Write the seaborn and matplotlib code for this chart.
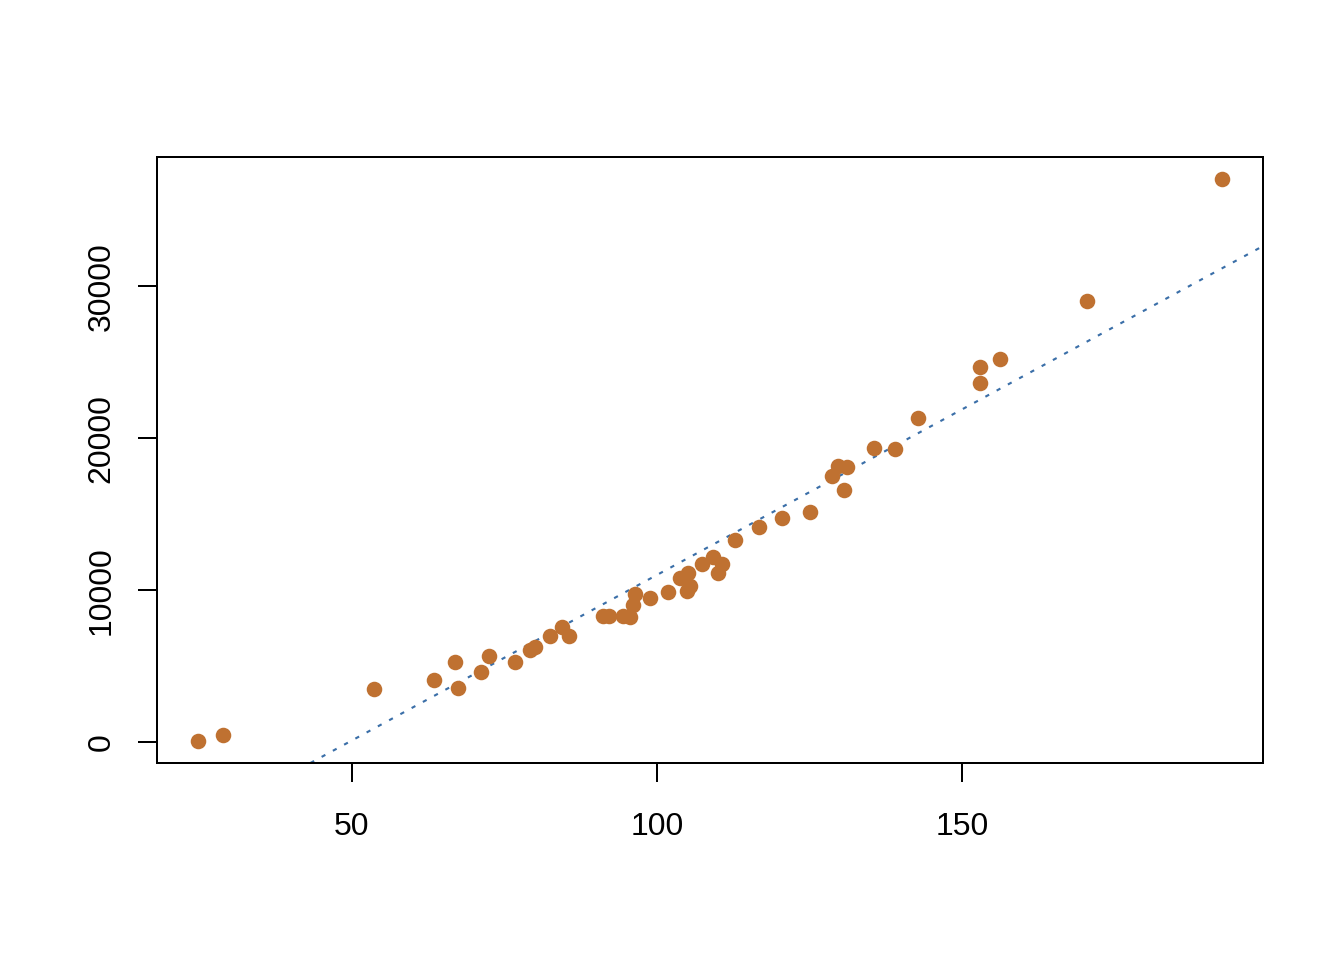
import seaborn as sns
import pandas as pd
import matplotlib.pyplot as plt

# values
x_vals = [24.8, 28.9, 53.6, 63.4, 67.0, 67.4, 71.2, 72.5, 76.7, 79.2,
          80.0, 82.5, 84.4, 85.6, 91.2, 92.1, 94.4, 95.6, 96.1, 96.4,
          98.9, 101.8, 103.8, 105.1, 104.9, 105.4, 107.4, 109.2, 110.7, 110.0,
          112.8, 116.7, 120.5, 125.1, 128.7, 129.7, 131.2, 130.7, 135.6, 139.0,
          142.8, 153.0, 153.0, 156.2, 170.5, 192.6]
y_vals = [100, 460, 3490, 4080, 5260, 3550, 4610, 5660, 5260, 6050,
          6250, 6970, 7570, 6970, 8290, 8290, 8290, 8220, 9010, 9740,
          9470, 9870, 10790, 11120, 9930, 10260, 11710, 12170, 11710, 11120,
          13290, 14140, 14740, 15130, 17500, 18160, 18090, 16580, 19340, 19280,
          21320, 24670, 23620, 25200, 29010, 37040]

# dotted reference line
line_intercept = -10800
line_slope = 218

x_ticks = [50, 100, 150]
y_ticks = [0, 10000, 20000, 30000]


def make_plot():
    df = pd.DataFrame({"x": x_vals, "y": y_vals})

    sns.set_style("white")
    plt.rcParams['font.family'] = ['Liberation Sans', 'DejaVu Sans']
    plt.rcParams['font.size'] = 12
    plt.rcParams['text.color'] = 'black'
    plt.rcParams['xtick.color'] = 'black'
    plt.rcParams['ytick.color'] = 'black'

    fig = plt.figure(figsize=(7, 5), dpi=192)
    ax = fig.add_axes([0.1168, 0.2052, 0.8229, 0.6313])

    sns.scatterplot(data=df, x="x", y="y", ax=ax, color="#BF7131",
                    s=34, linewidth=0, zorder=3)
    ax.axline((0, line_intercept), slope=line_slope, color="#3B6FA8",
              lw=0.8, dashes=(2, 4), zorder=2)

    xr = max(x_vals) - min(x_vals)
    yr = max(y_vals) - min(y_vals)
    ax.set_xlim(min(x_vals) - 0.04 * xr, max(x_vals) + 0.04 * xr)
    ax.set_ylim(min(y_vals) - 0.04 * yr, max(y_vals) + 0.04 * yr)

    ax.set_xticks(x_ticks)
    ax.set_yticks(y_ticks)
    ax.set_xlabel("")
    ax.set_ylabel("")
    for sp in ax.spines.values():
        sp.set_visible(True)
        sp.set_color("black")
        sp.set_linewidth(0.75)
    ax.tick_params(axis="both", direction="out", length=7.2, width=0.75,
                   color="black", labelcolor="black", labelsize=12,
                   bottom=True, left=True)
    ax.tick_params(axis="x", pad=11)
    ax.tick_params(axis="y", pad=8)
    for lab in ax.get_yticklabels():
        lab.set_rotation(90)
        lab.set_va("center")

    fig.savefig("out.png", dpi=192)


if __name__ == "__main__":
    make_plot()
